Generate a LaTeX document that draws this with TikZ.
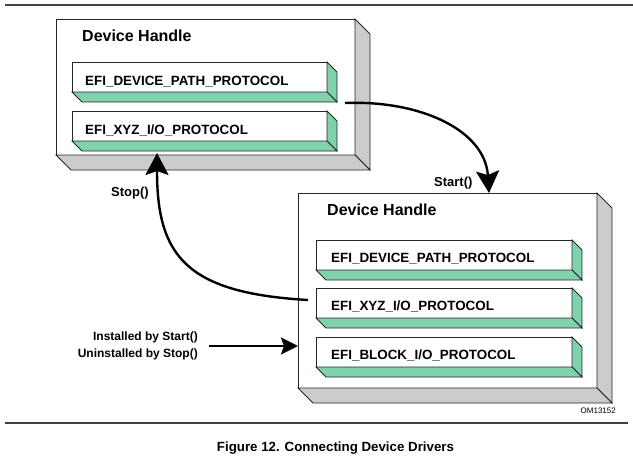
\documentclass[tikz,border=0pt]{standalone}
\usepackage{fontspec}
\setmainfont{Liberation Sans}
\usetikzlibrary{arrows.meta}
\definecolor{sidegray}{RGB}{204,204,204}
\definecolor{protgreen}{RGB}{128,210,172}
\definecolor{rulegray}{RGB}{64,64,64}
\newcommand\mkdepth[3]{%
  \filldraw[fill=#3,outline] (#1.north east) -- ++(#2,#2) -- ([shift={(#2,#2)}]#1.south east) -- (#1.south east) -- cycle;
  \filldraw[fill=#3,outline] (#1.south west) -- (#1.south east) -- ([shift={(#2,#2)}]#1.south east) -- ([shift={(#2,#2)}]#1.south west) -- cycle;}
\tikzset{
  outline/.style={draw=black!85,line width=0.8pt,line join=miter},
  face/.style={rectangle,fill=white,outline,inner sep=0pt,outer sep=0pt,anchor=north west},
  handlebox/.style={face,minimum width=299pt},
  protbar/.style={face,minimum width=255pt,minimum height=30pt},
  htitle/.style={font=\fontsize{16}{18}\selectfont\bfseries,anchor=base west,inner sep=0pt},
  ptext/.style={font=\fontsize{13.4}{15}\selectfont\bfseries,anchor=base west,inner sep=0pt},
  clabel/.style={font=\fontsize{13}{15}\selectfont\bfseries,anchor=base west,inner sep=0pt},
  bigarrow/.style={line width=2.4pt,-{Stealth[length=22pt,width=23pt,inset=4pt]}},
  rule/.style={draw=rulegray,line width=2pt}
}
\begin{document}
\begin{tikzpicture}[x=1pt,y=-1pt]
\useasboundingbox (0,0) rectangle (633,458);
% rules
\coordinate (r1a) at (5,5);   \coordinate (r1b) at (633,5);
\coordinate (r2a) at (5,423); \coordinate (r2b) at (628,423);
\draw[rule] (r1a) -- (r1b);
\draw[rule] (r2a) -- (r2b);
% top device handle
\node[handlebox,minimum height=136pt] (h1) at (56,19) {};
\mkdepth{h1}{15}{sidegray}
\node[htitle] (t1) at ([shift={(26,22)}]h1.north west) {Device Handle};
\node[protbar] (p11) at (72,62) {};
\mkdepth{p11}{10}{protgreen}
\node[ptext] (l11) at ([shift={(13,23)}]p11.north west) {EFI\_DEVICE\_PATH\_PROTOCOL};
\node[protbar] (p12) at (72,111) {};
\mkdepth{p12}{10}{protgreen}
\node[ptext] (l12) at ([shift={(13,23)}]p12.north west) {EFI\_XYZ\_I/O\_PROTOCOL};
% bottom device handle
\node[handlebox,minimum height=195pt] (h2) at (298,193) {};
\mkdepth{h2}{15}{sidegray}
\node[htitle] (t2) at ([shift={(29,22)}]h2.north west) {Device Handle};
\node[protbar,minimum width=256pt] (p21) at (316,240) {};
\mkdepth{p21}{10}{protgreen}
\node[ptext] (l21) at ([shift={(15,22)}]p21.north west) {EFI\_DEVICE\_PATH\_PROTOCOL};
\node[protbar,minimum width=256pt] (p22) at (316,288) {};
\mkdepth{p22}{10}{protgreen}
\node[ptext] (l22) at ([shift={(15,22)}]p22.north west) {EFI\_XYZ\_I/O\_PROTOCOL};
\node[protbar,minimum width=256pt] (p23) at (316,337) {};
\mkdepth{p23}{10}{protgreen}
\node[ptext] (l23) at ([shift={(15,22)}]p23.north west) {EFI\_BLOCK\_I/O\_PROTOCOL};
% labels
\node[clabel] (start) at (434,186) {Start()};
\node[clabel] (stop) at (111,196) {Stop()};
\node[font=\fontsize{12}{17}\selectfont\bfseries,align=right,anchor=east,inner sep=0pt] (inst) at (198,346) {Installed by Start()\\Uninstalled by Stop()};
\node[font=\fontsize{8}{9}\selectfont,anchor=base east,inner sep=0pt] (om) at (616,413) {OM13152};
\node[font=\fontsize{13.3}{15}\selectfont\bfseries,anchor=base,inner sep=0pt] (cap) at (335.5,451) {Figure 12. Connecting Device Drivers};
% connectors
\coordinate (sA) at (345,103);
\coordinate (sB) at (489,193);
\draw[bigarrow] (sA) .. controls (420,100) and (485,130) .. (sB);
\coordinate (tA) at (308,300);
\coordinate (tB) at (157,153);
\draw[bigarrow] (tA) .. controls (185,293) and (157,255) .. (tB);
\draw[line width=2.4pt,-{Stealth[length=17pt,width=17pt,inset=3pt]},shorten <=11pt] (inst.east) -- (inst.east -| h2.west);
\end{tikzpicture}
\end{document}
